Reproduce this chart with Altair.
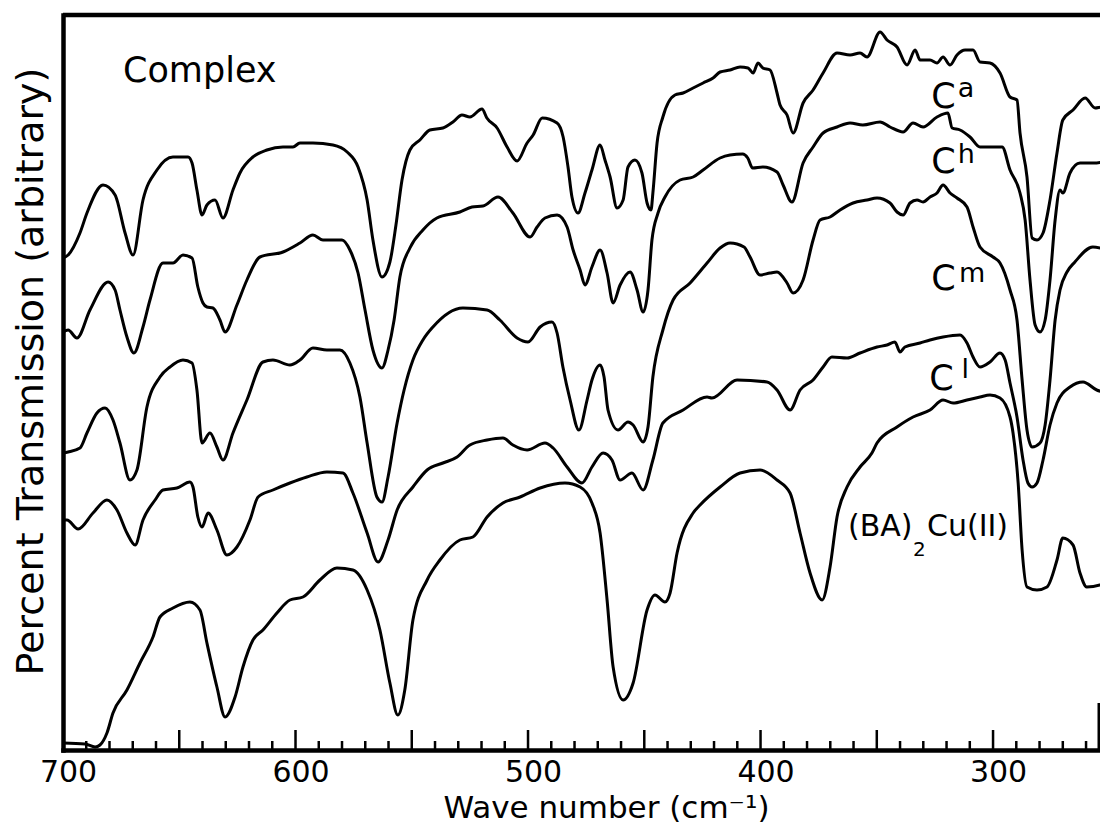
import altair as alt
import pandas as pd

# ---------------- data (wave number in cm^-1, transmission in arbitrary units) -------------
ca_wn = [700, 697.8, 692.7, 689.7, 682.8, 677.6, 673.3, 669.9, 665.6, 659.6,
         652.7, 646.2, 644.5, 642.4, 640.2, 638.1, 634.6, 631.2, 626.9, 623.9,
         618.3, 612.3, 605.4, 601.1, 598.1, 592.5, 583.9, 577.8, 573.1, 569.2,
         566.7, 562.8, 559.4, 556.8, 554.2, 550.8, 546.5, 542.2, 536.6, 532.3,
         528.4, 525, 519.8, 517.7, 513.3, 509, 504.7, 500.4, 497.8, 493.9,
         487.5, 484.9, 482.8, 481.1, 478.5, 475.5, 472.5, 469, 466.9, 464.7,
         461.7, 459.1, 457, 454, 451, 448.8, 447.1, 446.3, 444.5, 442,
         436.8, 433.3, 429, 424.7, 420.4, 417.4, 413.1, 408.8, 405.4, 403.2,
         401.1, 399, 395.9, 392.9, 391.6, 388.6, 386, 381.7, 377.4, 373.1,
         367.1, 361.5, 357.2, 354.2, 348.6, 345.6, 341.3, 337, 333.5, 331.4,
         327.1, 324.1, 321.5, 318.5, 315.5, 312, 308.6, 305.6, 301.3, 297,
         292.7, 289.7, 288.4, 285.4, 283.2, 281.1, 278.5, 275.5, 272.5, 270,
         265.6, 260.4, 256.1, 253.1, 250.6]
ca_t = [98.4, 99, 103.4, 107.4, 113, 111, 103.4, 99, 110, 116,
        118.6, 118.6, 117.4, 112, 107, 109, 110, 106.4, 112, 115.4,
        118.6, 120, 120.6, 120.6, 121.4, 121.4, 121, 119.6, 116.6, 110,
        102, 94.6, 97.6, 105, 114, 120, 122, 124, 124.4, 125.6,
        127, 126.6, 128.2, 126.4, 124.4, 120.6, 117.8, 121.4, 123, 126.4,
        125.4, 122.6, 116.6, 110.6, 107.4, 111.4, 116, 121, 118, 114.6,
        108.4, 110, 116.6, 118, 115.4, 109.4, 108, 111.4, 121.4, 126.6,
        131, 131.4, 132.4, 133.4, 134.4, 135.6, 136, 136.6, 136.4, 135.4,
        137.4, 136.4, 136, 131.4, 129, 127, 123.4, 129.4, 132, 135.4,
        139.4, 139, 139.4, 138.6, 143.6, 142, 140.6, 137, 140, 138,
        138, 137.4, 138.6, 137, 139, 140, 140, 137.6, 137.4, 135.4,
        130.6, 130, 123.4, 114.6, 102.4, 102, 103.4, 110, 119.4, 126,
        128, 130.4, 128.4, 128.6, 127]

ch_wn = [700, 697.8, 694, 688.4, 680.6, 677.6, 675.5, 672.5, 669.5, 665.6,
         662.6, 657, 652.7, 648.4, 644.5, 642, 639.8, 638.1, 635.5, 632.5,
         630.3, 625.2, 620.9, 615.3, 605.4, 598.1, 592.5, 588.2, 580, 576.6,
         573.1, 570.1, 566.7, 562.8, 560.2, 557.6, 555.1, 550.8, 545.2, 539.2,
         529.3, 524.1, 519.4, 512.9, 506.5, 499.1, 496.1, 492.7, 487.5, 483.2,
         480.6, 477.6, 475.5, 472.5, 469, 466, 463.4, 460.4, 456.1, 453.1,
         450.5, 448.4, 446.7, 444.1, 441.1, 434.6, 429, 424.7, 417.4, 413.1,
         407.7, 405.5, 403.4, 399, 392.9, 390.3, 386.5, 381.7, 377.4, 373.1,
         367.1, 361.5, 356, 348.6, 344.3, 338.7, 334.4, 330.1, 324.1, 319.4,
         317.6, 314.2, 309.9, 305.6, 301.3, 296.1, 292.7, 288.4, 286.2, 284.1,
         281.9, 279.8, 277.6, 275.5, 273.3, 271.2, 270, 266.9, 262.6, 255.4, 250.6]
ch_t = [83.6, 84, 82.4, 88, 93.6, 92, 88, 82.6, 79.4, 84.6,
        90, 97.4, 97.4, 99, 98.4, 92.6, 89.4, 88.6, 88.4, 86,
        83.6, 89, 94, 98.6, 99.6, 101.4, 103, 102, 102, 100,
        95.4, 88, 80, 76.4, 80, 86, 94.6, 100.4, 104, 106.4,
        107.6, 108.6, 108.8, 110.6, 107.4, 102.6, 104.6, 106.4, 107, 104.6,
        100, 96, 93, 96.6, 100, 95.4, 89.4, 93, 95.6, 92,
        87.6, 92, 102, 107.4, 110.6, 114, 114.6, 116, 118.4, 119,
        119.2, 118.4, 116.4, 116.6, 115.6, 113, 109.6, 117.4, 120.6, 123.4,
        124.6, 125.4, 125, 125.6, 124.6, 123.6, 125.4, 124.6, 126.6, 127.4,
        124.4, 124, 122.6, 120.6, 120.6, 120.6, 116, 111.4, 106, 94,
        85, 83.6, 86, 94, 106, 112, 111.4, 115.4, 117.4, 117.4, 118]

cm_wn = [700, 697.8, 692.7, 689.7, 685.4, 681.9, 678.5, 675.5, 671.2, 668.2,
         663.9, 658.3, 654, 648.4, 644.5, 642.4, 640.2, 636.8, 633.8, 631.2,
         626.9, 620.9, 614, 609.7, 602.4, 598.1, 592.5, 586.5, 580.9, 576.6,
         572.3, 569.2, 565, 562.8, 560.2, 556.3, 553.3, 549.5, 545.2, 540.9,
         528, 517.6, 512.1, 504.7, 500, 494.8, 489.7, 487.5, 485, 481.9,
         478.1, 474.6, 472.5, 469, 467.3, 465.6, 461.3, 457, 454.8, 450.5,
         448.4, 446.3, 442, 437.6, 430.3, 423, 417.4, 413.1, 407.1, 404.5,
         400.2, 395.9, 392.9, 388.6, 386, 381.7, 377.4, 374.4, 370.1, 365.8,
         360.2, 354.2, 349.9, 344.3, 341.3, 338.7, 335.7, 332.7, 330.1, 327.1,
         324.1, 321.5, 318.5, 315.5, 311.2, 308.6, 305.6, 300, 297, 292.7,
         289.7, 287.5, 285.4, 283.2, 279.8, 277.6, 275.5, 273.3, 271.2, 268.2,
         264.8, 257.1, 250.6]
cm_t = [59.4, 59.6, 60.4, 63.4, 67.4, 68.4, 66, 61.4, 54, 56,
        68.6, 74.6, 76.6, 78, 77.4, 72, 61.4, 63.4, 60.6, 58,
        63.4, 70, 77.6, 78, 77, 78, 80.4, 80, 80, 77.4,
        70.6, 61.4, 50.6, 49.6, 54.6, 65.4, 72, 78, 82, 84.6,
        88.4, 88, 86, 82.4, 81.6, 84.6, 85.6, 83.4, 76.6, 70,
        64, 70, 74, 77, 74.6, 68, 64, 65.6, 65, 61.6,
        64.6, 74.6, 84, 90, 93.4, 97.4, 100.4, 101.4, 100.6, 98.6,
        95, 95.4, 95.6, 93.4, 91.4, 94, 102, 106, 106.6, 108,
        109.4, 110, 110.4, 109.4, 107.6, 107, 109.4, 110, 109.6, 110.6,
        111.4, 113, 111.4, 110.4, 108.6, 104.6, 100.6, 98.6, 97.4, 92,
        86, 74, 64, 60.6, 61.4, 65, 74, 86, 92, 95.6,
        97.6, 100.6, 100]

cl_wn = [700, 698.3, 693.5, 687.1, 681.1, 676.8, 672.5, 669, 665.6, 660.4,
         657, 651, 645.4, 644.1, 642, 640.2, 637.6, 633.8, 629.5, 625.2,
         619.6, 616.1, 609.7, 602.4, 595.1, 586.5, 579.6, 575.3, 569.2, 564.5,
         560.2, 556.3, 549.5, 543.4, 536.6, 530.5, 525, 517.6, 510.8, 506.5,
         500.4, 492.7, 489.2, 483.2, 476.8, 472.5, 467.7, 463.9, 460.4, 455.3,
         450.5, 446.3, 442, 433.3, 423, 420.9, 410.1, 397.2, 392.9, 387.3,
         383, 377.4, 373.1, 369.3, 362.8, 357.2, 349.9, 345.6, 342.2, 340,
         337.9, 331.4, 327.1, 321.5, 314.2, 311.2, 308.6, 305.6, 301.3, 297,
         294.8, 292.7, 289.7, 287.1, 285, 283.2, 281.1, 278.5, 275.5, 272.5,
         266.9, 261.3, 255.4, 250.6]
cl_t = [46, 46, 44.2, 47.4, 50, 48, 43.4, 41, 46, 50,
        52, 52.4, 53.6, 52.6, 46.6, 44.6, 47.4, 44, 39, 40.6,
        46, 50.6, 52, 53.4, 54.6, 55.6, 55.4, 51.4, 43.4, 37.6,
        42, 48, 52.6, 56, 57.4, 58.6, 61, 62, 62.4, 61,
        60, 61.4, 60.4, 56.6, 53.4, 56.6, 59.4, 58, 54, 55.4,
        52, 58, 65.4, 68, 70.6, 70.4, 74, 73.6, 72, 68,
        72, 74, 76.6, 78.6, 78.4, 79.4, 80.6, 81, 81.6, 79.6,
        80.6, 81.4, 82, 82.6, 83, 81.4, 78.6, 76.6, 77.6, 79.4,
        78, 73.4, 66.6, 58, 53.4, 52.6, 53.4, 58, 65, 69.4,
        72.6, 73.6, 72, 71.4]

ba_wn = [700, 690.5, 686.2, 684.1, 681.1, 678.5, 672.5, 666.9, 661.3, 658.3,
         652.7, 645.4, 641.1, 638.1, 633.8, 630.3, 626, 622.6, 618.3, 614,
         608, 602.4, 596.8, 589.5, 582.2, 575.3, 569.2, 563.7, 559.4, 556,
         553, 549.5, 543.4, 537.9, 529.3, 523.7, 517.6, 510.8, 503.4, 494.8,
         484.1, 477.6, 472.5, 469, 466, 463.4, 459.1, 454.8, 448.8, 445.4,
         441.1, 438.9, 435.9, 429, 426, 417.4, 408.8, 400.2, 392.9, 387.3,
         383, 378.7, 373.5, 370.1, 367.1, 362.8, 357.2, 352.1, 349.9, 341.3,
         334.4, 327.1, 321.5, 317.2, 311.2, 305.6, 301.3, 297, 292.7, 291.4,
         289.2, 287.5, 285.4, 281.1, 276.8, 272.5, 270, 265.6, 262.6, 259.7,
         254, 250.6]
ba_t = [1.4, 1.2, 0.6, 1, 3.4, 7.4, 12, 17.4, 22.6, 26.6,
        28.4, 29.6, 28, 21.4, 12.6, 6.6, 10.6, 16.6, 22, 24,
        27.4, 30, 30.6, 34, 36.4, 36, 32, 24, 13.4, 7,
        12, 26, 34, 38, 42, 42.6, 46.6, 49.4, 50.6, 52.4,
        53.4, 52.6, 49.4, 43.4, 30, 16.6, 10, 13.4, 28, 31,
        29.6, 31.4, 39.4, 47.4, 49, 52.6, 55.4, 56, 54, 51.4,
        43.4, 35.4, 30, 36.6, 46.6, 52.6, 56.6, 59.4, 61.4, 64.6,
        66.6, 68, 70, 69.4, 70, 70.6, 71, 70.4, 66.6, 63.4,
        53.4, 40, 32.6, 32, 32.6, 38, 42.4, 41, 35.4, 32.6,
        33, 34]

curve_names = ["Ca", "Ch", "Cm", "Cl", "(BA)2Cu(II)"]

tick_labels = [700, 600, 500, 400, 300]
major_ticks = [650, 600, 550, 500, 450, 400, 350, 300]
minor_ticks = [690, 680, 670, 660, 640, 630, 620, 610, 590, 580, 570, 560,
               540, 530, 520, 510, 490, 480, 470, 460, 440, 430, 420, 410,
               390, 380, 370, 360, 340, 330, 320, 310, 290, 280, 270, 260]

# annotations (anchored in data coordinates)
complex_text, complex_wn, complex_t = ["Complex"], [674.2], [133.6]
c_text = ["C", "C", "C", "C"]
c_wn = [326.6, 326.6, 326.6, 327.4]
c_t = [128.4, 115.4, 92.0, 72.0]
sup_text = ["a", "h", "m", "l"]
sup_wn = [315.2, 315.2, 314.6, 313.6]
sup_t = [130.6, 117.4, 93.6, 74.4]
ba_text = ["(BA)", "Cu(II)"]
ba_lab_wn = [362.4, 328.4]
ba_lab_t = [42.8, 42.8]
sub_text, sub_wn, sub_t = ["2"], [334.4], [38.8]

# ---------------- build tables ----------------
rows = []
for name, wns, ts in zip(curve_names, [ca_wn, ch_wn, cm_wn, cl_wn, ba_wn],
                         [ca_t, ch_t, cm_t, cl_t, ba_t]):
    for w, v in zip(wns, ts):
        rows.append({"curve": name, "wn": w, "t": v})
df = pd.DataFrame(rows)

W, H = 1037, 735
FONT = "DejaVu Sans"

X = alt.X("wn:Q",
          scale=alt.Scale(domain=[700, 254], nice=False, zero=False),
          axis=alt.Axis(values=tick_labels, format="d", ticks=False, tickSize=0,
                        grid=False, domain=True, domainColor="black",
                        domainWidth=4.5, domainCap="square",
                        labelFont=FONT, labelFontSize=30, labelColor="black",
                        labelPadding=7, labelFlush=False, labelOffset=5,
                        title="Wave number (cm⁻¹)", titleFont=FONT,
                        titleFontSize=31, titleFontWeight="normal",
                        titleColor="black", titleX=543, titleY=67,
                        titleAlign="center", titleBaseline="alphabetic"))
Y = alt.Y("t:Q",
          scale=alt.Scale(domain=[0, 147], nice=False, zero=False),
          axis=alt.Axis(labels=False, ticks=False, tickSize=0, grid=False,
                        domain=True, domainColor="black", domainWidth=4.5,
                        domainCap="square",
                        title="Percent Transmission (arbitrary)", titleFont=FONT,
                        titleFontSize=38, titleFontWeight="normal",
                        titleColor="black", titleAngle=270, titleX=-21,
                        titleY=356, titleAlign="center",
                        titleBaseline="alphabetic"))

lines = alt.Chart(df).mark_line(color="black", strokeWidth=3, clip=True,
                                interpolate="monotone",
                                strokeJoin="round", strokeCap="round").encode(
    x=X, y=Y, detail="curve:N")

major = alt.Chart(pd.DataFrame({"wn": major_ticks})).mark_rule(
    color="black", strokeWidth=2.5).encode(x=X, y=alt.value(H), y2=alt.value(H - 20))
minor = alt.Chart(pd.DataFrame({"wn": minor_ticks})).mark_rule(
    color="black", strokeWidth=2.5).encode(x=X, y=alt.value(H), y2=alt.value(H - 9))

one = pd.DataFrame({"k": [0]})
top_border = alt.Chart(one).mark_rule(color="black", strokeWidth=4.5).encode(
    x=alt.value(0), x2=alt.value(W), y=alt.value(0))
right_stub = alt.Chart(one).mark_rule(color="black", strokeWidth=3).encode(
    x=alt.value(W - 1), y=alt.value(H - 47), y2=alt.value(H))


def text_layer(texts, wns, ts, size):
    d = pd.DataFrame({"label": texts, "wn": wns, "t": ts})
    return alt.Chart(d).mark_text(font=FONT, fontSize=size, align="left",
                                  baseline="alphabetic", color="black").encode(
        x=X, y=Y, text="label:N")


labels = [
    text_layer(complex_text, complex_wn, complex_t, 35),
    text_layer(c_text, c_wn, c_t, 35),
    text_layer(sup_text, sup_wn, sup_t, 27),
    text_layer(ba_text, ba_lab_wn, ba_lab_t, 30),
    text_layer(sub_text, sub_wn, sub_t, 20),
]

chart = alt.layer(lines, major, minor, top_border, right_stub, *labels).properties(
    width=W, height=H,
    autosize=alt.AutoSizeParams(type="none"),
    padding={"left": 55, "top": 7, "right": 0, "bottom": 74},
    background="white",
).configure_view(stroke="transparent")

chart.save("out.html", embed_options={"renderer": "svg", "actions": False})
